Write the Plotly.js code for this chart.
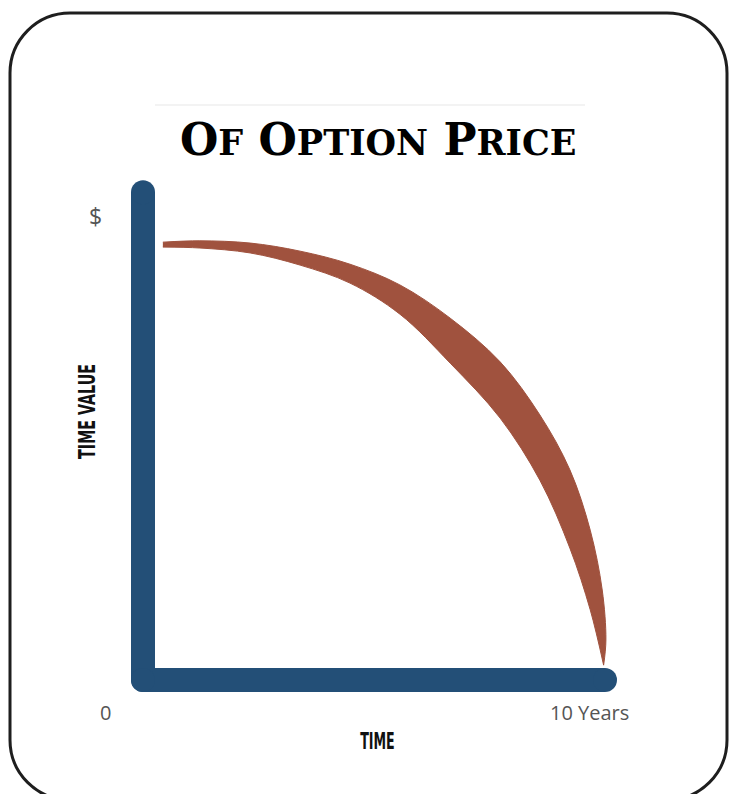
<!DOCTYPE html>
<html>
<head>
<meta charset="utf-8">
<script src="https://cdn.plot.ly/plotly-3.0.1.min.js"></script>
<style>html,body{margin:0;padding:0;background:#fff;}#chart{width:730px;height:794px;}</style>
</head>
<body>
<div id="chart"></div>
<script>
// ---- data (time in years, time value in % of initial option time value) ----
const outerTime  = [0.43, 1.23, 2.32, 3.40, 4.48, 5.56, 6.65, 7.73, 8.59, 9.24, 9.68, 9.94, 10.02, 9.97];
const outerValue = [97.3, 97.6, 97.1, 95.3, 92.4, 87.8, 80.4, 70.7, 58.9, 46.7, 33.3, 20.0, 8.9, 3.3];
const innerTime  = [0.43, 1.23, 2.32, 3.40, 4.48, 5.56, 6.65, 7.73, 8.59, 9.24, 9.68, 9.97];
const innerValue = [96.2, 96.0, 94.9, 92.2, 88.2, 81.3, 70.4, 58.2, 44.4, 29.3, 15.6, 3.3];
const axisTime   = [0, 10];
const axisValue  = [108.4, 0];
const xTickLabels = ['0', '10 Years'];
const yTickLabels = ['$'];
const titleText = 'O<span style="font-size:35px">F</span> O<span style="font-size:35px">PTION</span> P<span style="font-size:35px">RICE</span>';
const xTitle = 'TIME';
const yTitle = 'TIME VALUE';

const W = 730, H = 794;
const px = v => v / W;
const py = v => 1 - v / H;

const blue = '#234f77';
const brown = '#a0523e';

const traces = [
  { // vertical axis bar
    x: [axisTime[0], axisTime[0]], y: [axisValue[0], axisValue[1]],
    mode: 'lines+markers', line: {color: blue, width: 24},
    marker: {color: blue, size: 24}, hoverinfo: 'skip'
  },
  { // horizontal axis bar
    x: [axisTime[0], axisTime[1]], y: [axisValue[1], axisValue[1]],
    mode: 'lines+markers', line: {color: blue, width: 24},
    marker: {color: blue, size: 24}, hoverinfo: 'skip'
  },
  { // outer edge of time value decay band
    x: outerTime, y: outerValue, mode: 'lines',
    line: {color: brown, width: 1, shape: 'spline', smoothing: 1}, hoverinfo: 'skip'
  },
  { // inner edge, filled to outer edge
    x: innerTime, y: innerValue, mode: 'lines', fill: 'tonexty', fillcolor: brown,
    line: {color: brown, width: 1, shape: 'spline', smoothing: 1}, hoverinfo: 'skip'
  }
];

// rounded frame
const L = 10, T = 13, R = 727, B = 800, r = 60, k = 0.5523 * r;
const framePath = [
  'M', px(L + r), py(T),
  'L', px(R - r), py(T),
  'C', px(R - r + k), py(T), px(R), py(T + r - k), px(R), py(T + r),
  'L', px(R), py(B - r),
  'C', px(R), py(B - r + k), px(R - r + k), py(B), px(R - r), py(B),
  'L', px(L + r), py(B),
  'C', px(L + r - k), py(B), px(L), py(B - r + k), px(L), py(B - r),
  'L', px(L), py(T + r),
  'C', px(L), py(T + r - k), px(L + r - k), py(T), px(L + r), py(T),
  'Z'
].join(' ');

const labelFont = {family: '"Open Sans", sans-serif', size: 20, color: '#555'};
const condFont = {family: '"DejaVu Sans", sans-serif', size: 23, color: '#111', weight: 'bold'};

const layout = {
  width: W, height: H,
  margin: {l: 0, r: 0, t: 0, b: 0},
  paper_bgcolor: '#fff', plot_bgcolor: '#fff',
  showlegend: false,
  xaxis: {range: [-143 / 46.2, (730 - 143) / 46.2], visible: false, fixedrange: true},
  yaxis: {range: [-(794 - 680) / 4.5, 680 / 4.5], visible: false, fixedrange: true},
  shapes: [
    {type: 'path', xref: 'paper', yref: 'paper', path: framePath,
     line: {color: '#1e1e1e', width: 3}, fillcolor: 'rgba(0,0,0,0)'},
    {type: 'line', xref: 'paper', yref: 'paper', x0: px(155), x1: px(585), y0: py(105), y1: py(105),
     line: {color: '#f3f3f3', width: 2}}
  ],
  annotations: [
    {text: titleText, xref: 'paper', yref: 'paper', x: px(378), y: py(140),
     xanchor: 'center', yanchor: 'middle', showarrow: false,
     font: {family: '"DejaVu Serif", serif', size: 44, color: '#000', weight: 'bold'}},
    {text: yTickLabels[0], xref: 'paper', yref: 'paper', x: px(95), y: py(216),
     xanchor: 'center', yanchor: 'middle', showarrow: false,
     font: {family: '"Open Sans", sans-serif', size: 23, color: '#555'}},
    {text: xTickLabels[0], xref: 'paper', yref: 'paper', x: px(105), y: py(712),
     xanchor: 'center', yanchor: 'middle', showarrow: false, font: labelFont},
    {text: xTickLabels[1], xref: 'paper', yref: 'paper', x: px(589), y: py(712),
     xanchor: 'center', yanchor: 'middle', showarrow: false, font: labelFont},
    {text: xTitle, xref: 'paper', yref: 'paper', x: px(377), y: py(741),
     xanchor: 'center', yanchor: 'middle', showarrow: false, font: condFont},
    {text: yTitle, xref: 'paper', yref: 'paper', x: px(87), y: py(412),
     xanchor: 'center', yanchor: 'middle', showarrow: false, textangle: -90, font: condFont}
  ]
};

Plotly.newPlot('chart', traces, layout, {staticPlot: true, displayModeBar: false}).then(gd => {
  // condense the bold axis titles (poster-style narrow lettering)
  const squeeze = {'TIME': 0.55, 'TIME VALUE': 0.62};
  gd.querySelectorAll('text.annotation-text').forEach(t => {
    const s = squeeze[t.textContent];
    if (s) {
      t.style.transformBox = 'fill-box';
      t.style.transformOrigin = 'center';
      t.style.transform = 'scaleX(' + s + ')';
    }
  });
});
</script>
</body>
</html>
